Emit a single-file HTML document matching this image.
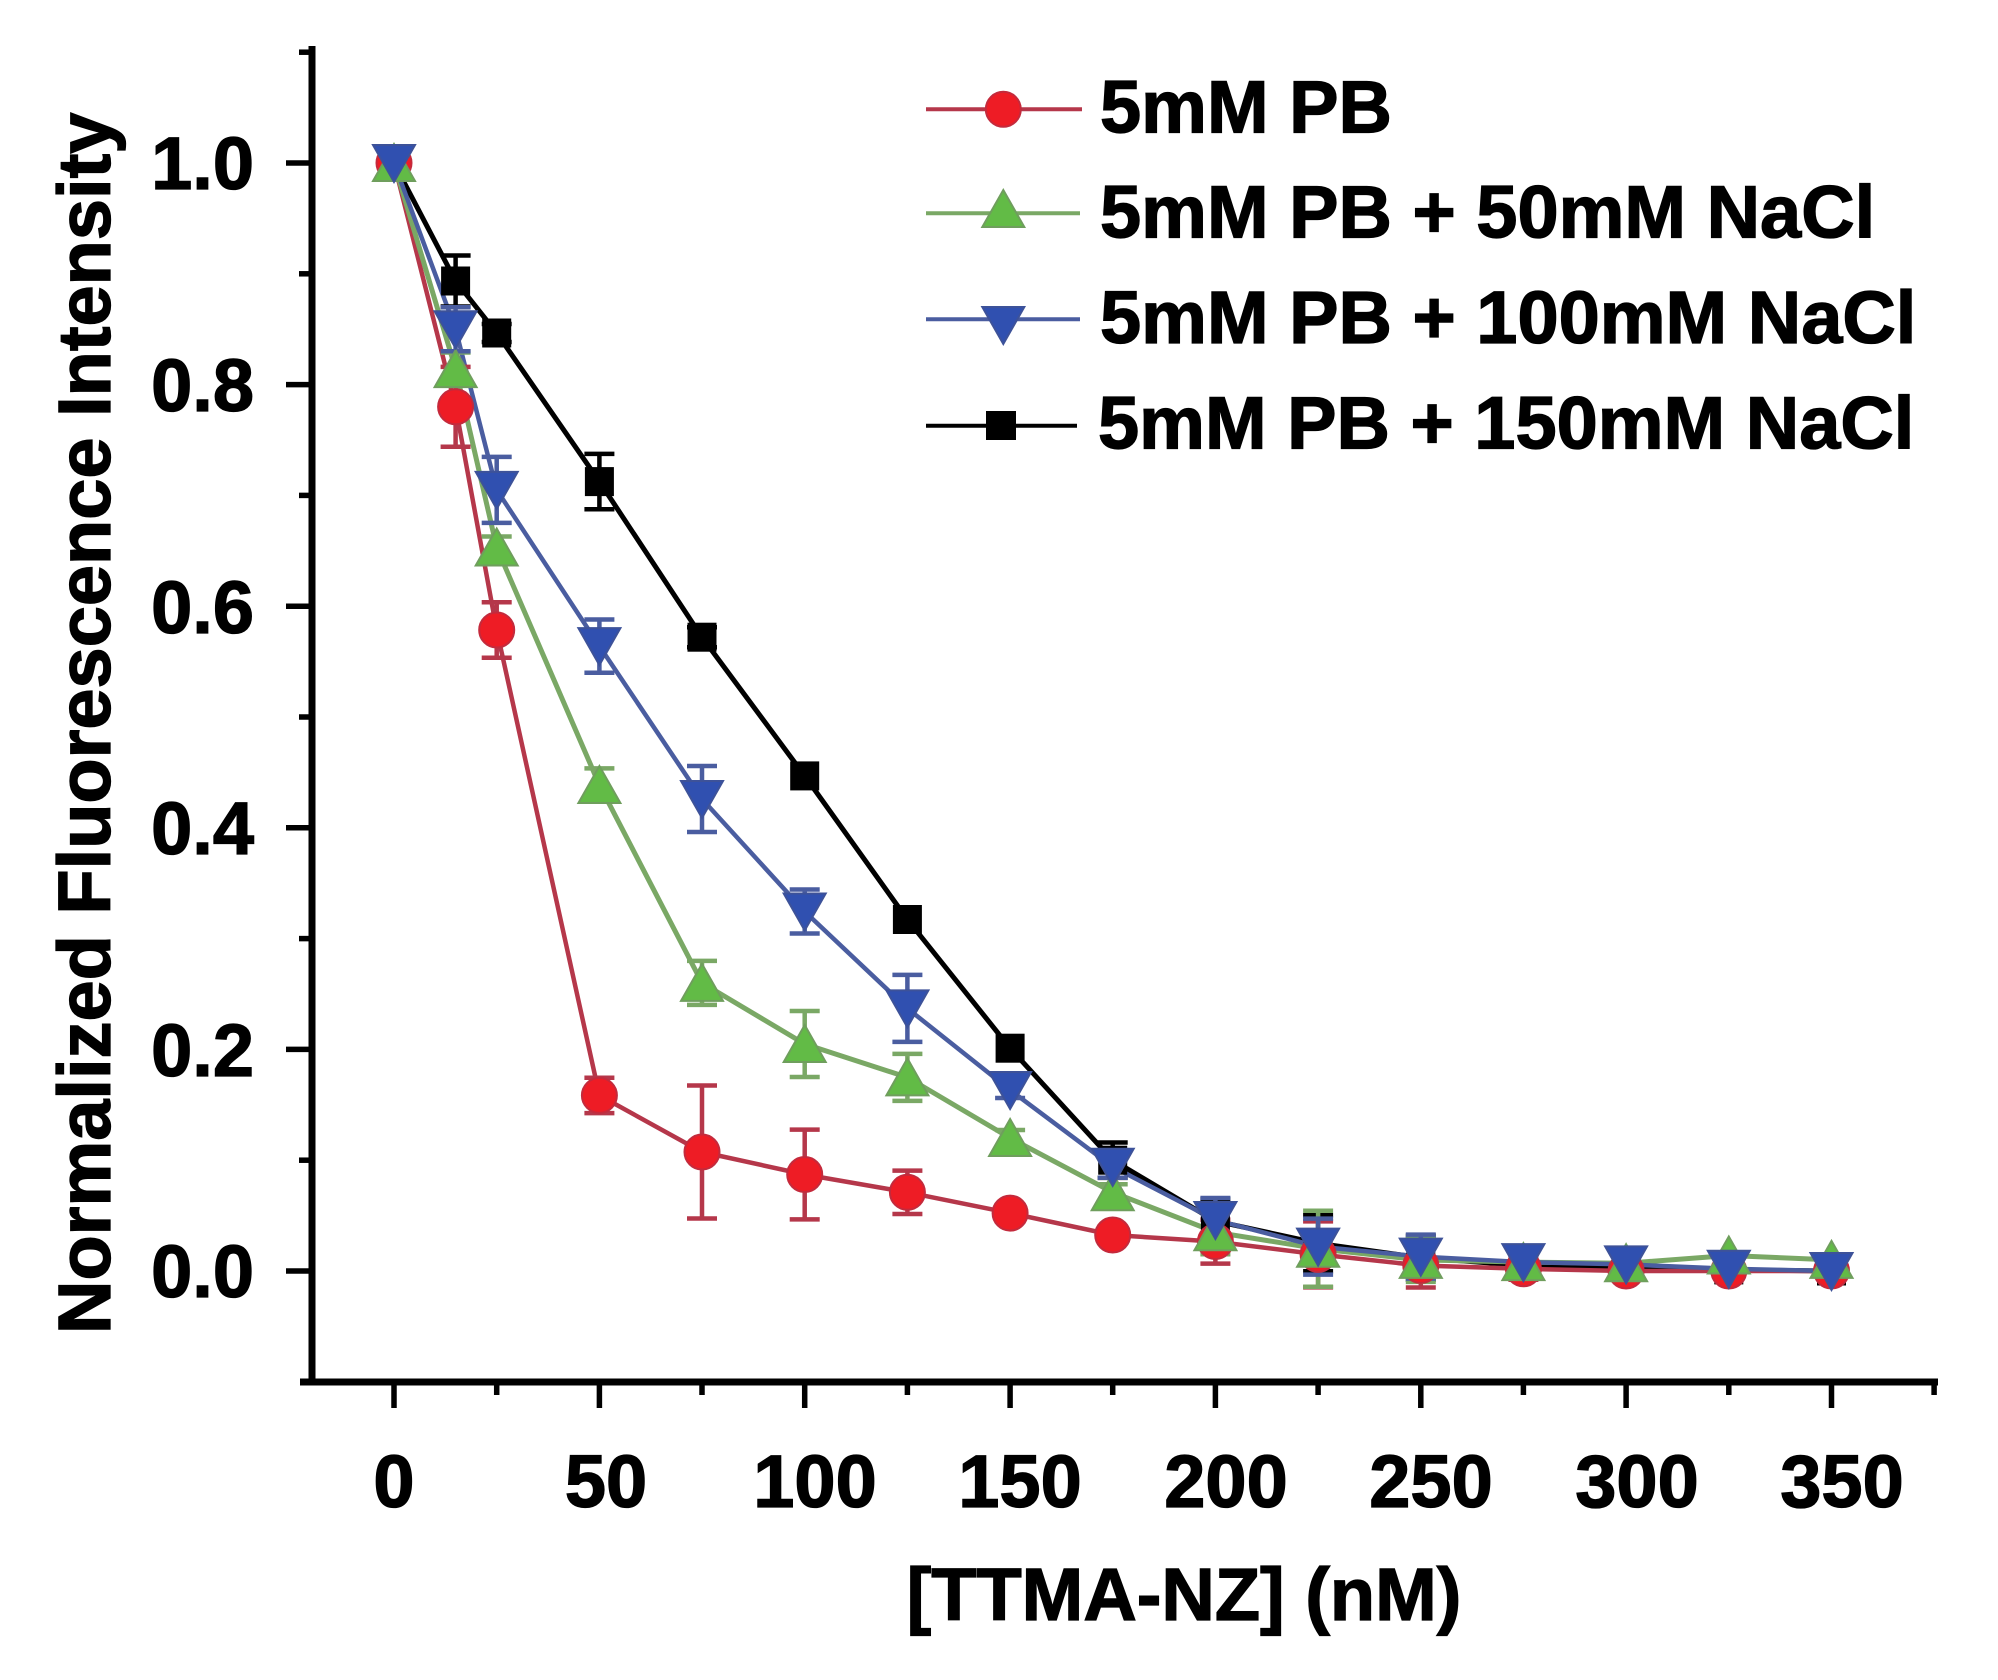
<!DOCTYPE html>
<html>
<head>
<meta charset="utf-8">
<style>
html,body{margin:0;padding:0;background:#fff;}
svg{display:block;}
text{font-family:"Liberation Sans",Arial,sans-serif;font-weight:bold;fill:#000;stroke:#000;stroke-width:1.3;}
</style>
</head>
<body>
<svg width="1998" height="1680" viewBox="0 0 1998 1680" xmlns="http://www.w3.org/2000/svg">
<defs>
  <circle id="mc" cx="0" cy="0" r="17.5" fill="#ee1c25" stroke="#c42a3c" stroke-width="2"/>
  <path id="mt" d="M0,-19 L21,18 L-21,18 Z" fill="#62bb46" stroke="#6f9e5d" stroke-width="2"/>
  <path id="mv" d="M-21,-18 L21,-18 L0,19 Z" fill="#3050b0" stroke="#3d5299" stroke-width="2"/>
  <rect id="ms" x="-14.5" y="-14.5" width="29" height="29" fill="#000"/>
</defs>

<!-- Axes -->
<g stroke="#000" stroke-width="7" fill="none">
  <line x1="312" y1="46" x2="312" y2="1385"/>
  <line x1="300" y1="1382" x2="1938" y2="1382"/>
</g>
<!-- Y ticks -->
<g stroke="#000" stroke-width="5.5">
  <line x1="286" y1="1271" x2="312" y2="1271"/>
  <line x1="286" y1="1049.4" x2="312" y2="1049.4"/>
  <line x1="286" y1="827.8" x2="312" y2="827.8"/>
  <line x1="286" y1="606.2" x2="312" y2="606.2"/>
  <line x1="286" y1="384.6" x2="312" y2="384.6"/>
  <line x1="286" y1="163" x2="312" y2="163"/>
  <line x1="299" y1="1160.2" x2="312" y2="1160.2"/>
  <line x1="299" y1="938.6" x2="312" y2="938.6"/>
  <line x1="299" y1="717" x2="312" y2="717"/>
  <line x1="299" y1="495.4" x2="312" y2="495.4"/>
  <line x1="299" y1="273.8" x2="312" y2="273.8"/>
  <line x1="299" y1="52.2" x2="312" y2="52.2"/>
</g>
<!-- X ticks -->
<g stroke="#000" stroke-width="5.5">
  <line x1="394" y1="1382" x2="394" y2="1408"/>
  <line x1="599.4" y1="1382" x2="599.4" y2="1408"/>
  <line x1="804.7" y1="1382" x2="804.7" y2="1408"/>
  <line x1="1010.1" y1="1382" x2="1010.1" y2="1408"/>
  <line x1="1215.4" y1="1382" x2="1215.4" y2="1408"/>
  <line x1="1420.8" y1="1382" x2="1420.8" y2="1408"/>
  <line x1="1626.1" y1="1382" x2="1626.1" y2="1408"/>
  <line x1="1831.5" y1="1382" x2="1831.5" y2="1408"/>
  <line x1="496.7" y1="1382" x2="496.7" y2="1395"/>
  <line x1="702" y1="1382" x2="702" y2="1395"/>
  <line x1="907.4" y1="1382" x2="907.4" y2="1395"/>
  <line x1="1112.7" y1="1382" x2="1112.7" y2="1395"/>
  <line x1="1318.1" y1="1382" x2="1318.1" y2="1395"/>
  <line x1="1523.4" y1="1382" x2="1523.4" y2="1395"/>
  <line x1="1728.8" y1="1382" x2="1728.8" y2="1395"/>
  <line x1="1934.1" y1="1382" x2="1934.1" y2="1395"/>
</g>

<!-- Y tick labels -->
<g font-size="74" text-anchor="end">
  <text x="254" y="189">1.0</text>
  <text x="254" y="411">0.8</text>
  <text x="254" y="633">0.6</text>
  <text x="254" y="854">0.4</text>
  <text x="254" y="1076">0.2</text>
  <text x="254" y="1297">0.0</text>
</g>
<!-- X tick labels -->
<g font-size="74" text-anchor="middle">
  <text x="394" y="1507">0</text>
  <text x="606" y="1507">50</text>
  <text x="815" y="1507">100</text>
  <text x="1020" y="1507">150</text>
  <text x="1226" y="1507">200</text>
  <text x="1431" y="1507">250</text>
  <text x="1637" y="1507">300</text>
  <text x="1842" y="1507">350</text>
</g>

<!-- Axis titles -->
<text font-size="74" x="0" y="0" transform="translate(110,1334) rotate(-90)">Normalized Fluorescence Intensity</text>
<text font-size="74" x="1184" y="1620" text-anchor="middle">[TTMA-NZ] (nM)</text>

<!-- Series lines -->
<g fill="none" stroke-linejoin="round">
  <polyline stroke="#000" stroke-width="5" points="394,163 455.6,281 496.7,333 599.4,481.6 702,637.2 804.7,775.9 907.4,919.5 1010.1,1048.2 1112.7,1160.2 1215.4,1221.1 1318.1,1243.3 1420.8,1257.7 1523.4,1265.5 1626.1,1267.7 1728.8,1269.9 1831.5,1271"/>
  <polyline stroke="#b5374a" stroke-width="4.5" points="394,163 455.6,406.8 496.7,630 599.4,1095.4 702,1152 804.7,1174.5 907.4,1192.3 1010.1,1213.1 1112.7,1235 1215.4,1241.6 1318.1,1254.4 1420.8,1265.5 1523.4,1268.8 1626.1,1271 1728.8,1271 1831.5,1271"/>
  <polyline stroke="#7aa865" stroke-width="5" points="394,163 455.6,369.1 496.7,547.5 599.4,785 702,982.9 804.7,1044 907.4,1077.4 1010.1,1138 1112.7,1192.3 1215.4,1232.2 1318.1,1248.8 1420.8,1259.9 1523.4,1262.1 1626.1,1263.2 1728.8,1255.5 1831.5,1259.9"/>
  <polyline stroke="#4a5da0" stroke-width="4.5" points="394,163 455.6,329.2 496.7,489.9 599.4,646.1 702,799 804.7,911.5 907.4,1008.4 1010.1,1090 1112.7,1166.8 1215.4,1220 1318.1,1246.6 1420.8,1256.6 1523.4,1262.1 1626.1,1264.4 1728.8,1268.8 1831.5,1271"/>
</g>

<!-- Error bars -->
<g fill="none" stroke-width="4.5">
  <path stroke="#000" d="M455.6 255.5V306.5M440.6 255.5h30M440.6 306.5h30
    M496.7 324V342M481.7 324h30M481.7 342h30
    M599.4 453.9V509.3M584.4 453.9h30M584.4 509.3h30
    M702 627.2V647.2M687 627.2h30M687 647.2h30
    M1112.7 1142.5V1177.9M1097.7 1142.5h30M1097.7 1177.9h30
    M1215.4 1199.1V1243.1M1200.4 1199.1h30M1200.4 1243.1h30
    M1318.1 1215.3V1271.3M1303.1 1215.3h30M1303.1 1271.3h30
    M1420.8 1235.7V1279.7M1405.8 1235.7h30M1405.8 1279.7h30
    M1523.4 1254.5V1276.5M1508.4 1254.5h30M1508.4 1276.5h30"/>
  <path stroke="#b5374a" d="M455.6 366.9V446.7M440.6 366.9h30M440.6 446.7h30
    M496.7 602.3V657.7M481.7 602.3h30M481.7 657.7h30
    M599.4 1077.7V1113.1M584.4 1077.7h30M584.4 1113.1h30
    M702 1085.5V1218.5M687 1085.5h30M687 1218.5h30
    M804.7 1129.6V1219.4M789.7 1129.6h30M789.7 1219.4h30
    M907.4 1170.6V1214M892.4 1170.6h30M892.4 1214h30
    M1010.1 1205V1221M995.1 1205h30M995.1 1221h30
    M1112.7 1227V1243M1097.7 1227h30M1097.7 1243h30
    M1215.4 1219.6V1263.6M1200.4 1219.6h30M1200.4 1263.6h30
    M1318.1 1221.4V1287.4M1303.1 1221.4h30M1303.1 1287.4h30
    M1420.8 1243.5V1287.5M1405.8 1243.5h30M1405.8 1287.5h30
    M1523.4 1257.8V1279.8M1508.4 1257.8h30M1508.4 1279.8h30
    M1626.1 1262V1280M1611.1 1262h30M1611.1 1280h30"/>
  <path stroke="#7aa865" d="M455.6 352.5V385.7M440.6 352.5h30M440.6 385.7h30
    M496.7 536.5V558.5M481.7 536.5h30M481.7 558.5h30
    M599.4 768.4V801.6M584.4 768.4h30M584.4 801.6h30
    M702 960.9V1004.9M687 960.9h30M687 1004.9h30
    M804.7 1011V1077M789.7 1011h30M789.7 1077h30
    M907.4 1053.9V1100.9M892.4 1053.9h30M892.4 1100.9h30
    M1010.1 1130V1146M995.1 1130h30M995.1 1146h30
    M1112.7 1184.3V1200.3M1097.7 1184.3h30M1097.7 1200.3h30
    M1215.4 1210.2V1254.2M1200.4 1210.2h30M1200.4 1254.2h30
    M1318.1 1210.8V1286.8M1303.1 1210.8h30M1303.1 1286.8h30
    M1420.8 1237.9V1281.9M1405.8 1237.9h30M1405.8 1281.9h30
    M1523.4 1251.1V1273.1M1508.4 1251.1h30M1508.4 1273.1h30
    M1626.1 1254.2V1272.2M1611.1 1254.2h30M1611.1 1272.2h30"/>
  <path stroke="#4a5da0" d="M455.6 307.2V351.2M440.6 307.2h30M440.6 351.2h30
    M496.7 456.9V522.9M481.7 456.9h30M481.7 522.9h30
    M599.4 619.5V672.7M584.4 619.5h30M584.4 672.7h30
    M702 766V832M687 766h30M687 832h30
    M804.7 889.5V933.5M789.7 889.5h30M789.7 933.5h30
    M907.4 974.9V1041.9M892.4 974.9h30M892.4 1041.9h30
    M1010.1 1082V1098M995.1 1082h30M995.1 1098h30
    M1112.7 1155.8V1177.8M1097.7 1155.8h30M1097.7 1177.8h30
    M1215.4 1198V1242M1200.4 1198h30M1200.4 1242h30
    M1318.1 1218.6V1274.6M1303.1 1218.6h30M1303.1 1274.6h30
    M1420.8 1234.6V1278.6M1405.8 1234.6h30M1405.8 1278.6h30
    M1523.4 1251.1V1273.1M1508.4 1251.1h30M1508.4 1273.1h30
    M1626.1 1255.4V1273.4M1611.1 1255.4h30M1611.1 1273.4h30"/>
</g>

<!-- Markers: black squares -->
<g>
  <use href="#ms" x="394" y="163"/>
  <use href="#ms" x="455.6" y="281"/>
  <use href="#ms" x="496.7" y="333"/>
  <use href="#ms" x="599.4" y="481.6"/>
  <use href="#ms" x="702" y="637.2"/>
  <use href="#ms" x="804.7" y="775.9"/>
  <use href="#ms" x="907.4" y="919.5"/>
  <use href="#ms" x="1010.1" y="1048.2"/>
  <use href="#ms" x="1112.7" y="1160.2"/>
  <use href="#ms" x="1215.4" y="1221.1"/>
  <use href="#ms" x="1318.1" y="1243.3"/>
  <use href="#ms" x="1420.8" y="1257.7"/>
  <use href="#ms" x="1523.4" y="1265.5"/>
  <use href="#ms" x="1626.1" y="1267.7"/>
  <use href="#ms" x="1728.8" y="1269.9"/>
  <use href="#ms" x="1831.5" y="1271"/>
</g>
<!-- red circles -->
<g>
  <use href="#mc" x="394" y="163"/>
  <use href="#mc" x="455.6" y="406.8"/>
  <use href="#mc" x="496.7" y="630"/>
  <use href="#mc" x="599.4" y="1095.4"/>
  <use href="#mc" x="702" y="1152"/>
  <use href="#mc" x="804.7" y="1174.5"/>
  <use href="#mc" x="907.4" y="1192.3"/>
  <use href="#mc" x="1010.1" y="1213.1"/>
  <use href="#mc" x="1112.7" y="1235"/>
  <use href="#mc" x="1215.4" y="1241.6"/>
  <use href="#mc" x="1318.1" y="1254.4"/>
  <use href="#mc" x="1420.8" y="1265.5"/>
  <use href="#mc" x="1523.4" y="1268.8"/>
  <use href="#mc" x="1626.1" y="1271"/>
  <use href="#mc" x="1728.8" y="1271"/>
  <use href="#mc" x="1831.5" y="1271"/>
</g>
<!-- green triangles -->
<g>
  <use href="#mt" x="394" y="163"/>
  <use href="#mt" x="455.6" y="369.1"/>
  <use href="#mt" x="496.7" y="547.5"/>
  <use href="#mt" x="599.4" y="785"/>
  <use href="#mt" x="702" y="982.9"/>
  <use href="#mt" x="804.7" y="1044"/>
  <use href="#mt" x="907.4" y="1077.4"/>
  <use href="#mt" x="1010.1" y="1138"/>
  <use href="#mt" x="1112.7" y="1192.3"/>
  <use href="#mt" x="1215.4" y="1232.2"/>
  <use href="#mt" x="1318.1" y="1248.8"/>
  <use href="#mt" x="1420.8" y="1259.9"/>
  <use href="#mt" x="1523.4" y="1262.1"/>
  <use href="#mt" x="1626.1" y="1263.2"/>
  <use href="#mt" x="1728.8" y="1255.5"/>
  <use href="#mt" x="1831.5" y="1259.9"/>
</g>
<!-- blue inverted triangles -->
<g>
  <use href="#mv" x="394" y="163"/>
  <use href="#mv" x="455.6" y="329.2"/>
  <use href="#mv" x="496.7" y="489.9"/>
  <use href="#mv" x="599.4" y="646.1"/>
  <use href="#mv" x="702" y="799"/>
  <use href="#mv" x="804.7" y="911.5"/>
  <use href="#mv" x="907.4" y="1008.4"/>
  <use href="#mv" x="1010.1" y="1090"/>
  <use href="#mv" x="1112.7" y="1166.8"/>
  <use href="#mv" x="1215.4" y="1220"/>
  <use href="#mv" x="1318.1" y="1246.6"/>
  <use href="#mv" x="1420.8" y="1256.6"/>
  <use href="#mv" x="1523.4" y="1262.1"/>
  <use href="#mv" x="1626.1" y="1264.4"/>
  <use href="#mv" x="1728.8" y="1268.8"/>
  <use href="#mv" x="1831.5" y="1271"/>
</g>

<!-- Legend -->
<g fill="none" stroke-width="4">
  <line x1="926" y1="109.3" x2="1082" y2="109.3" stroke="#b5374a"/>
  <line x1="926" y1="213.3" x2="1080" y2="213.3" stroke="#7aa865"/>
  <line x1="926" y1="319.3" x2="1080" y2="319.3" stroke="#4a5da0"/>
  <line x1="926" y1="425.7" x2="1077" y2="425.7" stroke="#000"/>
</g>
<use href="#mc" x="1003.3" y="109.3"/>
<use href="#mt" x="1003.3" y="209"/>
<use href="#mv" x="1003.3" y="325"/>
<rect x="986" y="411" width="30" height="29" fill="#000"/>
<g font-size="74">
  <text x="1100" y="132.7">5mM PB</text>
  <text x="1100" y="237.5">5mM PB + 50mM NaCl</text>
  <text x="1100" y="343.2">5mM PB + 100mM NaCl</text>
  <text x="1098" y="448.3">5mM PB + 150mM NaCl</text>
</g>
</svg>
</body>
</html>
